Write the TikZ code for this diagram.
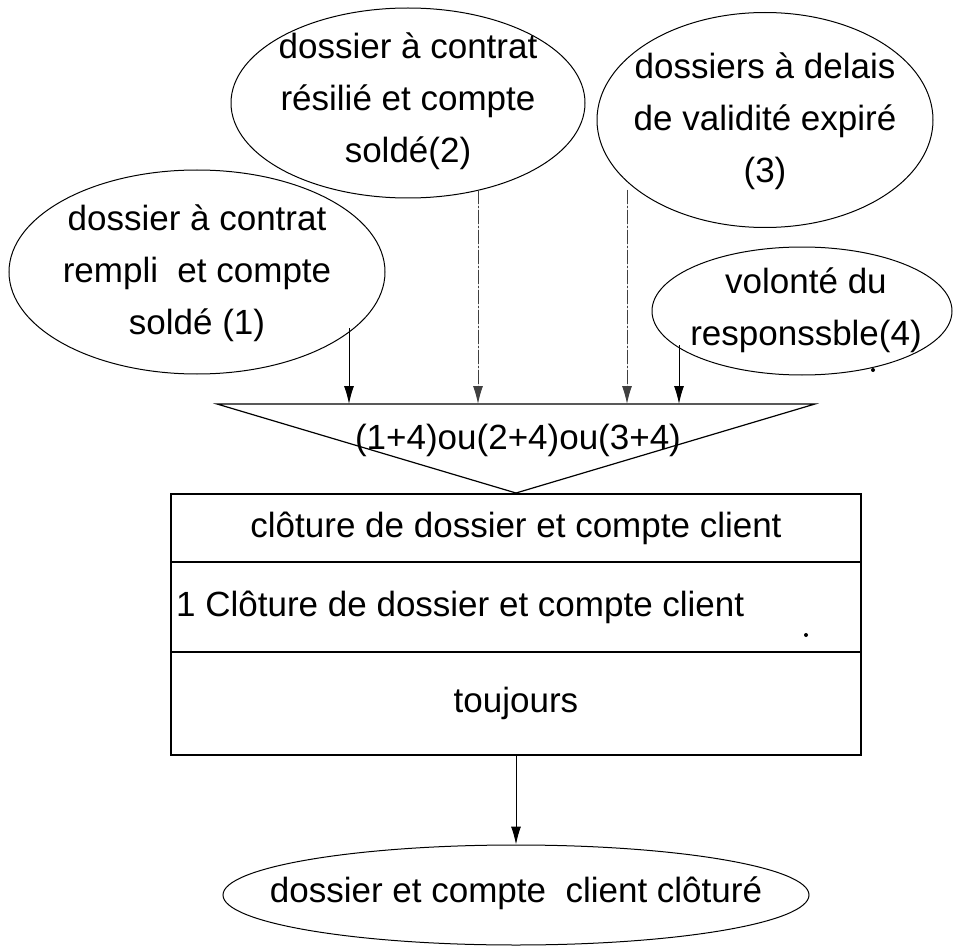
\documentclass[tikz,border=0pt]{standalone}
\usepackage{fontspec}
\setmainfont{Liberation Sans}
\usetikzlibrary{shapes.geometric,arrows.meta}
\begin{document}
\begin{tikzpicture}[x=1pt,y=-1pt,
  bubble/.style={draw, ellipse, line width=1pt, inner sep=0pt},
  lbl/.style={font=\fontsize{35}{52}\selectfont, align=center, inner sep=0pt},
  flow/.style={line width=1pt, -{Latex[length=18pt,width=10pt]}},
  faint/.style={dash pattern=on 14pt off 2pt on 2pt off 2pt, draw=black!75, fill=black},
  cell/.style={draw, line width=1.2pt, minimum width=690pt, inner sep=0pt},
  speck/.style={fill, circle, inner sep=0pt, minimum size=4pt}
]
\useasboundingbox (0,0) rectangle (954,947);

% input conditions
\node[bubble, minimum width=376pt, minimum height=204pt] (e1) at (197,272) {};
\node[bubble, minimum width=354pt, minimum height=190pt] (e2) at (408,103) {};
\node[bubble, minimum width=336pt, minimum height=215pt] (e3) at (765,120) {};
\node[bubble, minimum width=300pt, minimum height=128pt] (e4) at (802,311) {};

\node[lbl] (t1) at (197,273) {dossier à contrat\\rempli~ et compte\\soldé (1)};
\node[lbl] (t2) at (408,101) {dossier à contrat\\résilié et compte\\soldé(2)};
\node[lbl] (t3) at (765,121) {dossiers à delais\\de validité expiré\\(3)};
\node[lbl] (t4) at (806,310) {volonté du\\responssble(4)};

% synchronisation triangle
\coordinate (tl) at (217,404);
\coordinate (tr) at (815,404);
\coordinate (ap) at (516,493);
\draw[line width=1.2pt] (tl) -- (tr) -- (ap) -- cycle;
\node[lbl] (sync) at (518,440) {(1+4)ou(2+4)ou(3+4)};

% operation box
\node[cell, minimum height=68pt] (r1) at (516,528) {};
\node[cell, minimum height=90pt] (r2) at (516,607) {};
\node[cell, minimum height=103pt] (r3) at (516,703.5) {};
\node[lbl] (r1t) at (516,528) {clôture de dossier et compte client};
\node[lbl, anchor=west] (r2t) at (176,607) {1 Clôture de dossier et compte client};
\node[lbl] (r3t) at (516,703) {toujours};

% result
\node[bubble, minimum width=586pt, minimum height=100pt] (fin) at (516,895) {};
\node[lbl] (fint) at (516,893) {dossier et compte~ client clôturé};

% stray marks
\node[speck] (d1) at (806,635) {};
\node[speck] (d2) at (873,370) {};

% connectors
\coordinate (s1) at (349,328);
\coordinate (s2) at (478,190);
\coordinate (s3) at (627,190);
\coordinate (s4) at (679,345);
\draw[flow] (s1) -- (s1 |- tl);
\draw[flow, faint] (s2) -- (s2 |- tl);
\draw[flow, faint] (s3) -- (s3 |- tl);
\draw[flow] (s4) -- (s4 |- tl);
\draw[flow] (r3.south) -- (fin.north);
\end{tikzpicture}
\end{document}
